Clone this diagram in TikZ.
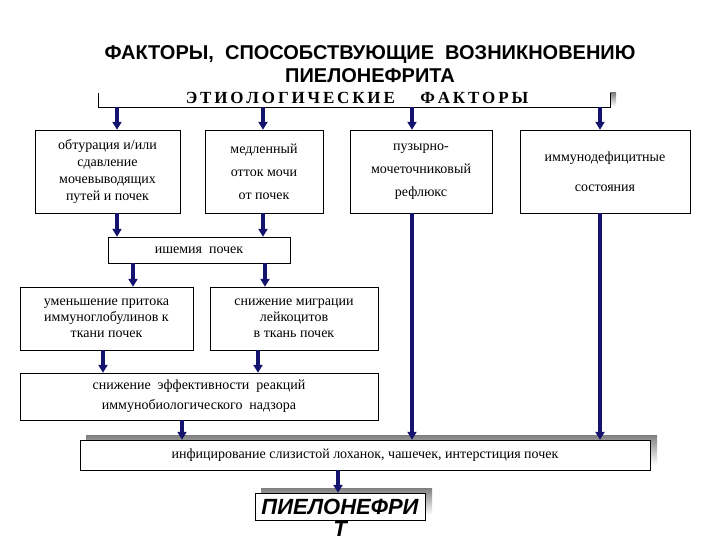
\documentclass[tikz,border=0pt]{standalone}
\usepackage{fontspec}
\setmainfont{Liberation Serif}
\newfontfamily\hsans{Liberation Sans}
\usetikzlibrary{arrows.meta}
\definecolor{navy}{RGB}{20,20,110}
\definecolor{shade}{RGB}{140,140,140}
\begin{document}
\begin{tikzpicture}[x=1pt,y=-1pt,
  bx/.style={draw,thin,fill=white,align=center,inner sep=2pt,font=\fontsize{14}{17}\selectfont},
  arr/.style={navy,line width=3.4pt,-{Triangle[length=8pt,width=9pt]}}]
\useasboundingbox (0,0) rectangle (720,540);
\node[font=\hsans\bfseries\fontsize{20}{23}\selectfont,align=center] (t) at (370,64) {ФАКТОРЫ,\ \ СПОСОБСТВУЮЩИЕ\ \ ВОЗНИКНОВЕНИЮ\\ПИЕЛОНЕФРИТА};
% etiological bar
\fill[shade] (610,93) rectangle (616,106);
\draw[thin] (98,93) -- (98,107) -- (610,107) -- (610,93);
\node[font=\bfseries\fontsize{17}{18}\selectfont] (et) at (357,98) {Э\,Т\,И\,О\,Л\,О\,Г\,И\,Ч\,Е\,С\,К\,И\,Е\quad\ \ Ф\,А\,К\,Т\,О\,Р\,Ы};
\coordinate (e1) at (117,107);\coordinate (e2) at (263,107);
\coordinate (e3) at (412,107);\coordinate (e4) at (600,107);
\node[bx,minimum width=145,minimum height=83,font=\fontsize{14}{17}\selectfont] (b1) at (107.5,171.5) {обтурация и/или\\сдавление\\мочевыводящих\\путей и почек};
\node[bx,minimum width=118,minimum height=83,font=\fontsize{14}{23}\selectfont] (b2) at (264,171.5) {медленный\\отток мочи\\от почек};
\node[bx,minimum width=142,minimum height=83,font=\fontsize{14}{23}\selectfont] (b3) at (421,171.5) {пузырно-\\мочеточниковый\\рефлюкс};
\node[bx,minimum width=170,minimum height=83,font=\fontsize{14}{30}\selectfont] (b4) at (605,171.5) {иммунодефицитные\\состояния};
\draw[arr] (e1) -- (e1|-b1.north);
\draw[arr] (e2) -- (e2|-b2.north);
\draw[arr] (e3) -- (e3|-b3.north);
\draw[arr] (e4) -- (e4|-b4.north);
\node[bx,minimum width=182,minimum height=26] (is) at (199,250) {ишемия\ \ почек};
\draw[arr] (e1|-b1.south) -- (e1|-is.north);
\draw[arr] (e2|-b2.south) -- (e2|-is.north);
\node[bx,minimum width=173,minimum height=63,font=\fontsize{14}{16}\selectfont] (b5) at (106.5,318.5) {уменьшение притока\\иммуноглобулинов к\\ткани почек};
\node[bx,minimum width=168,minimum height=63,font=\fontsize{14}{16}\selectfont] (b6) at (294,318.5) {снижение миграции\\лейкоцитов\\в ткань почек};
\coordinate (i1) at (133,263);\coordinate (i2) at (265,263);
\draw[arr] (i1) -- (i1|-b5.north);
\draw[arr] (i2) -- (i2|-b6.north);
\node[bx,minimum width=358,minimum height=47,font=\fontsize{14}{20}\selectfont] (b7) at (199,396.5) {снижение\ \ эффективности\ \ реакций\\иммунобиологического\ \ надзора};
\coordinate (s1) at (103,350);\coordinate (s2) at (258,350);
\draw[arr] (s1) -- (s1|-b7.north);
\draw[arr] (s2) -- (s2|-b7.north);
\fill[shade] (86,435) rectangle (657,465);
\node[bx,minimum width=570,minimum height=30] (b8) at (365,455) {инфицирование слизистой лоханок, чашечек, интерстиция почек};
\coordinate (c7) at (182,420);
\draw[arr] (c7) -- (c7|-b8.north);
\draw[arr] (e3|-b3.south) -- (e3|-b8.north);
\draw[arr] (e4|-b4.south) -- (e4|-b8.north);
\fill[shade] (261,488) rectangle (432,515);
\node[bx,minimum width=170,minimum height=27,font=\hsans\bfseries\itshape\fontsize{22}{22}\selectfont,inner sep=0pt] (b9) at (340,506.5) {ПИЕЛОНЕФРИ};
\node[font=\hsans\bfseries\itshape\fontsize{22}{22}\selectfont,inner sep=0pt,anchor=north] (tt) at (340,521) {Т};
\coordinate (c8) at (338,470);
\draw[arr] (c8) -- (c8|-b9.north);
\end{tikzpicture}
\end{document}
